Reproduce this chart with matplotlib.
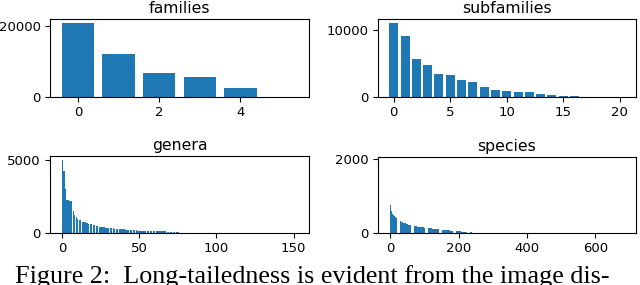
import matplotlib
matplotlib.use("Agg")
import matplotlib.pyplot as plt

# ---- data ----
families = [20950, 12150, 6900, 5550, 2550, 60]

subfamilies = [11100, 9100, 5700, 4750, 3500, 3350, 2550, 2250, 1550, 1000,
               850, 700, 700, 450, 300, 200, 180, 60, 40, 20, 10]

genera = [
    5000, 4200, 3000, 2250, 2220, 2200, 2180, 1500, 1200, 1100,
    950, 880, 860, 780, 770, 760, 650, 620, 600, 590,
    530, 520, 510, 500, 420, 400, 390, 380, 375, 370,
    360, 350, 320, 310, 305, 300, 295, 290, 285, 280,
    270, 210, 205, 200, 195, 190, 185, 180, 175, 170,
    160, 150, 145, 140, 140, 135, 135, 130, 120, 118,
    116, 115, 114, 112, 110, 108, 106, 104, 102, 100,
    95, 90, 85, 80, 75, 70, 30, 29, 28, 27,
    26, 25, 24, 23, 22, 21, 20, 20, 19, 19,
    18, 18, 17, 17, 16, 16, 15, 15, 14, 14,
    13, 13, 12, 12, 11, 11, 10, 10, 10, 9,
    9, 9, 8, 8, 8, 7, 7, 7, 6, 6,
    6, 6, 5, 5, 5, 5, 4, 4, 4, 4,
    3, 3, 3, 3, 3, 2, 2, 2, 2, 2,
    2, 1, 1, 1, 1, 1, 1, 1, 1, 1,
    1, 1, 1,
]

# visible head of the species distribution (the remaining tail is ~0)
species = [
    765, 700, 640, 590, 560, 540, 520, 505, 495, 480,
    470, 460, 450, 440, 430, 425, 420, 410, 405, 400,
    390, 380, 375, 370, 365, 360, 350, 340, 330, 320,
    310, 305, 297, 292, 290, 287, 285, 282, 280, 277,
    275, 272, 270, 265, 262, 258, 255, 251, 248, 245,
    240, 236, 232, 228, 224, 220, 217, 214, 211, 208,
    206, 205, 203, 201, 199, 197, 195, 193, 191, 189,
    187, 185, 183, 182, 181, 180, 178, 177, 175, 174,
    172, 171, 169, 168, 166, 165, 163, 162, 160, 159,
    158, 157, 156, 155, 154, 153, 151, 150, 149, 148,
    146, 145, 144, 143, 142, 141, 140, 139, 138, 137,
    136, 135, 134, 133, 132, 131, 130, 129, 127, 126,
    124, 123, 122, 121, 120, 119, 118, 117, 116, 115,
    114, 113, 112, 111, 110, 109, 108, 107, 106, 105,
    104, 103, 102, 101, 100, 99, 98, 97, 96, 95,
    94, 93, 92, 91, 90, 89, 88, 87, 86, 84,
    83, 82, 81, 80, 79, 78, 77, 76, 75, 74,
    73, 72, 71, 70, 69, 68, 67, 66, 65, 64,
    63, 62, 61, 60, 59, 58, 57, 56, 55, 54,
    53, 52, 51, 50, 49, 48, 47, 46, 46, 45,
    44, 44, 43, 42, 42, 41, 40, 40, 39, 38,
    38, 37, 36, 36, 35, 34, 34, 33, 32, 32,
    31, 30, 30, 29, 28, 28, 27, 26, 26, 25,
    24, 24, 23, 22, 22, 21, 20, 20, 19, 18,
]

titles = ["families", "subfamilies", "genera", "species"]
caption = "Figure 2:  Long-tailedness is evident from the image dis-"

# ---- figure ----
W, H = 640, 285
fig = plt.figure(figsize=(W / 100, H / 100), dpi=100)

def rect(l, r, t, b):
    return [l / W, 1 - b / H, (r - l) / W, (b - t) / H]

positions = [rect(50, 309, 19, 97), rect(377.5, 636, 19, 97),
             rect(50, 309, 156, 233), rect(377.5, 636, 157, 233)]
datasets = [families, subfamilies, genera, species]

for pos, data, title in zip(positions, datasets, titles):
    ax = fig.add_axes(pos)
    ax.bar(range(len(data)), data, color="#1f77b4", width=0.8)
    ax.set_title(title, fontsize=11.3, pad=4)
    ax.tick_params(labelsize=9.5, length=3.5, width=0.8, pad=3)
    for s in ax.spines.values():
        s.set_linewidth(0.8)
    if title == "species":
        ax.set_xlim(-38, 719)
        ax.set_ylim(0, 2065)
        ax.set_yticks([0, 2000])
    elif title == "families":
        ax.set_yticks([0, 20000])
    elif title == "subfamilies":
        ax.set_yticks([0, 10000])
    elif title == "genera":
        ax.set_yticks([0, 5000])

fig.text(15 / W, 1 - 283 / H, caption, family="Liberation Serif",
         fontsize=18.8, ha="left", va="baseline")

fig.savefig("out.png", dpi=100)
